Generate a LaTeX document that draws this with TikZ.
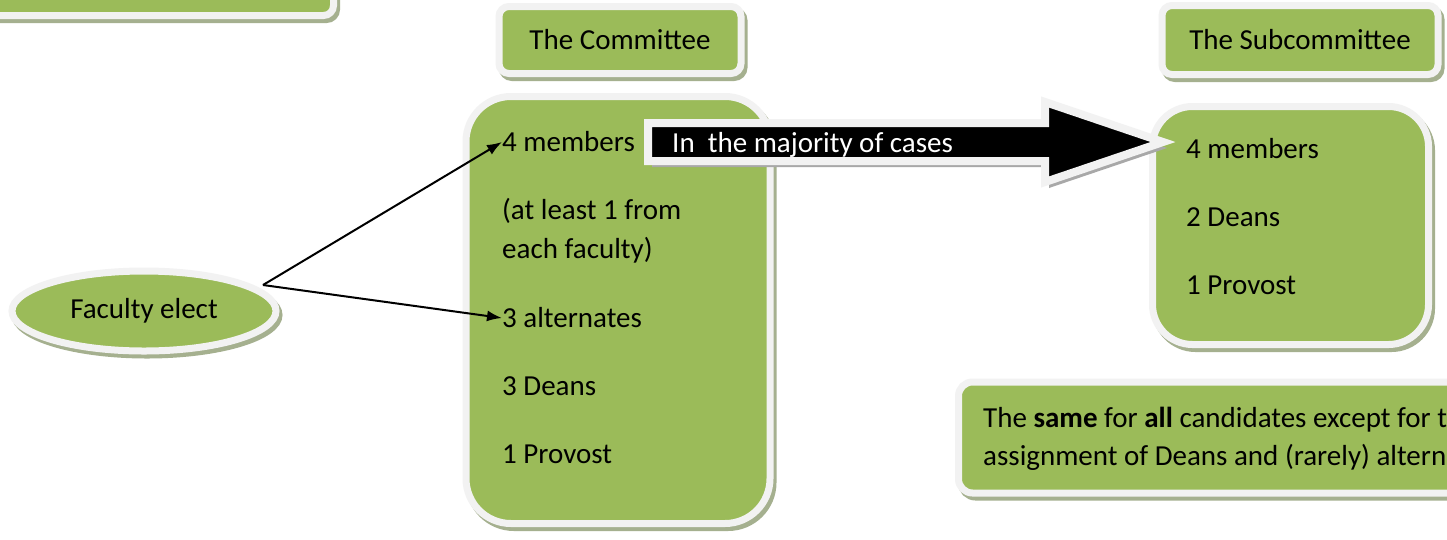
\documentclass[tikz,border=0pt]{standalone}
\usepackage{fontspec}
\setmainfont{Carlito}
\usetikzlibrary{shapes.geometric,shadows,arrows.meta}
\definecolor{greenc}{HTML}{9BBB59}
\definecolor{borderc}{HTML}{F2F2F2}
\definecolor{shadowc}{HTML}{A5B08F}
\definecolor{arrowshadow}{HTML}{A8A8A8}
\begin{document}
\begin{tikzpicture}[x=1pt,y=-1pt,
  font=\fontsize{29}{39}\selectfont,
  gshadow/.style={general shadow={fill=shadowc, draw=shadowc, line width=7pt, shadow xshift=3pt, shadow yshift=-4pt}},
  gbox/.style={rectangle, rounded corners=#1, fill=greenc, draw=borderc, line width=7pt, inner sep=0pt, gshadow},
  gbox/.default=10pt,
  gellipse/.style={ellipse, fill=greenc, draw=borderc, line width=7pt, inner sep=0pt, gshadow},
  item/.style={anchor=west, inner sep=0pt, align=left},
  link/.style={-{Latex[length=15pt,width=11pt]}, line width=2pt}
]
\clip (0,0) rectangle (1447,539);
\fill[white] (0,0) rectangle (1447,539);

% top-left box (mostly outside the picture)
\node[gbox, minimum width=360pt, minimum height=80pt] (tl) at (153.5,-24.5) {};

% The Committee
\node[gbox, minimum width=242pt, minimum height=67pt] (ct) at (620,40) {The Committee};
\node[gbox=45pt, minimum width=304pt, minimum height=427pt] (cb) at (618,310) {};

% The Subcommittee
\node[gbox, minimum width=276pt, minimum height=69pt] (st) at (1300,40) {The Subcommittee};
\node[gbox=40pt, minimum width=276pt, minimum height=238pt] (sb) at (1290.5,225.5) {};

% bottom-right note
\node[gbox=14pt, anchor=west, minimum width=700pt, minimum height=111pt] (nb) at (955,437.5) {};
\node[item, font=\fontsize{29}{38}\selectfont] (nt) at (983,439)
  {The \textbf{same} for \textbf{all} candidates except for the\\assignment of Deans and (rarely) alternates};

% Faculty elect
\node[gellipse, minimum width=264pt, minimum height=80pt] (fe) at (144,311) {Faculty elect};
\coordinate (fs) at ([shift={(119,-26)}]fe.center);

% big block arrow
\coordinate (ba) at (648,142);
\fill[arrowshadow] ([shift={(4,6)}]ba) ++(0,-19) -- ++(397,0) -- ++(0,-21) -- ++(118,40) -- ++(-118,40) -- ++(0,-21) -- ++(-397,0) -- cycle;
\draw[fill=black, draw=borderc, line width=8pt, line join=miter] (ba) ++(0,-19) -- ++(397,0) -- ++(0,-21) -- ++(118,40) -- ++(-118,40) -- ++(0,-21) -- ++(-397,0) -- cycle;
\node[anchor=west, inner sep=0pt, text=white] (maj) at (672,145) {In\ \ the majority of cases};

% committee items
\node[item] (c1) at (502,142) {4 members};
\node[item] (c2) at (502,231) {(at least 1 from\\each faculty)};
\node[item] (c3) at (502,318) {3 alternates};
\node[item] (c4) at (502,386) {3 Deans};
\node[item] (c5) at (502,454) {1 Provost};

% subcommittee items
\node[item] (s1) at (1186,149) {4 members};
\node[item] (s2) at (1186,217) {2 Deans};
\node[item] (s3) at (1186,285) {1 Provost};

% connectors
\draw[link] (fs) -- (c1.west);
\draw[link] (fs) -- (c3.west);
\end{tikzpicture}
\end{document}
